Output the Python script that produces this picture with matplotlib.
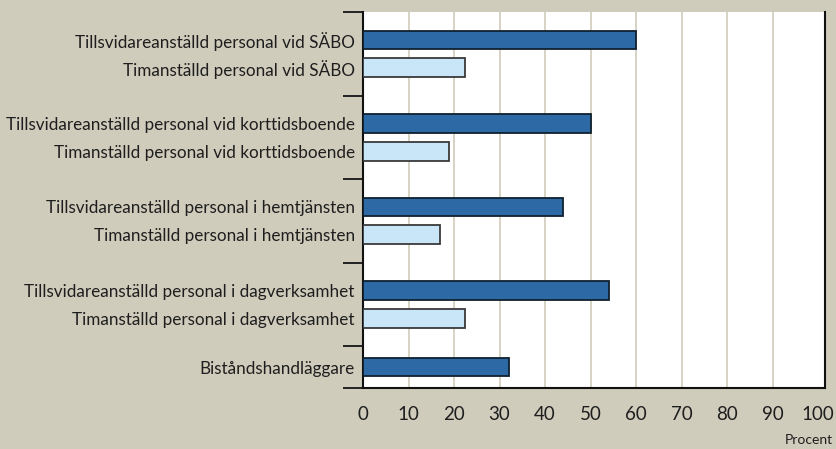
import matplotlib
matplotlib.use('Agg')
import matplotlib.pyplot as plt
import numpy as np

# Kategorier och procentvärden
kategorier = ['Tillsvidareanställd personal vid SÄBO',
              'Timanställd personal vid SÄBO',
              'Tillsvidareanställd personal vid korttidsboende',
              'Timanställd personal vid korttidsboende',
              'Tillsvidareanställd personal i hemtjänsten',
              'Timanställd personal i hemtjänsten',
              'Tillsvidareanställd personal i dagverksamhet',
              'Timanställd personal i dagverksamhet',
              'Biståndshandläggare']
procent = [60, 22.4, 50, 19, 44, 17, 54, 22.3, 32]
timanstalld = [False, True, False, True, False, True, False, True, False]
grupp = [0, 0, 1, 1, 2, 2, 3, 3, 4]
xticks = [0, 10, 20, 30, 40, 50, 60, 70, 80, 90, 100]

bakgrund = '#d0ccbc'
mork = '#2d69a5'
ljus = '#c8e6f7'

plt.rcParams['font.family'] = ['Lato', 'DejaVu Sans']

fig = plt.figure(figsize=(8.36, 4.49), dpi=100, facecolor=bakgrund)
ax = fig.add_axes([363/836, 61/449, 462/836, 376/449])
ax.set_facecolor('white')

# y-positioner: grupper om 3 enheter, sista gruppen 1.5
pos = []
for i, g in enumerate(grupp):
    if g < 4:
        pos.append(g * 3 + 1 + (1 if timanstalld[i] else 0))
    else:
        pos.append(g * 3 + 0.75)
pos = np.array(pos)

for p, v, t in zip(pos, procent, timanstalld):
    ax.barh(p, v, height=0.67, color=ljus if t else mork,
            edgecolor='#3a3a3a' if t else '#10202e', linewidth=1.3, zorder=3)

ax.set_ylim(13.5, 0)
ax.set_xlim(0, 101.5)

ax.set_yticks(pos)
ax.set_yticklabels(kategorier, fontsize=12.3, color='#1e1e1e')
ax.set_yticks([0, 3, 6, 9, 12, 13.5], minor=True)
ax.tick_params(axis='y', which='major', length=0, pad=6)
ax.tick_params(axis='y', which='minor', length=14.5, width=1.4, color='#222222')

ax.set_xticks(xticks)
ax.set_xticklabels([str(x) for x in xticks], fontsize=13.5, color='#1e1e1e')
ax.tick_params(axis='x', length=0, pad=13)
ax.grid(axis='x', color='#d6d2c4', linewidth=1.4, zorder=0)
ax.xaxis.get_gridlines()[-1].set_visible(False)
ax.xaxis.get_gridlines()[0].set_visible(False)

ax.spines['top'].set_visible(False)
for s in ['left', 'right', 'bottom']:
    ax.spines[s].set_color('#111111')
    ax.spines[s].set_linewidth(1.5)

fig.text(833/836, 1 - 440/449, 'Procent', ha='right', va='center', fontsize=10, color='#1e1e1e')

fig.savefig('out.png', dpi=100, facecolor=bakgrund)
